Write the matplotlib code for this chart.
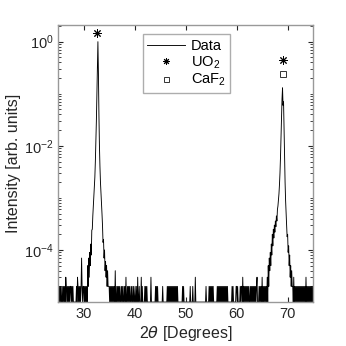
import numpy as np
import matplotlib.pyplot as plt
from matplotlib.ticker import LogLocator, FixedLocator, NullFormatter

plt.rcParams['font.family'] = ['Liberation Sans', 'DejaVu Sans']
plt.rcParams['mathtext.default'] = 'regular'

# 2theta grid, 0.1 deg step
two_theta = np.round(np.arange(25.0, 75.05, 0.1), 1)

# background counts, one digit per 0.1 deg starting at 25.0
# (1 count -> 1e-5 after normalisation)
background = (
    "2121212112" "1212132121" "2121221212" "1111112132" "1212127212"  # 25-29
    "2121212121" "2121212121" "1212121212" "2121212121" "1212141212"  # 30-34
    "2121212121" "2141121212" "1211212112" "1213112121" "2112121121"  # 35-39
    "1211213112" "1113121111" "2121211111" "1131111111" "1212121111"  # 40-44
    "1111121111" "1111212121" "2121212121" "2121211111" "1111212111"  # 45-49
    "1111111112" "1111211113" "1111111111" "1111111111" "2111112121"  # 50-54
    "2121211111" "1121212121" "2121212121" "2121111111" "1212111112"  # 55-59
    "2121111212" "2131212121" "2121211212" "1212121212" "3111212121"  # 60-64
    "3121212121" "2121212121" "2121212121" "1212121212" "2121212121"  # 65-69
    "1212121212" "2131212121" "2121212121" "2121213121" "2121212121"  # 70-74
    "2"
)

# UO2 (200) peak, normalised intensity from 30.8 deg
peak1_start = 30.8
peak1 = [5e-5, 2e-5, 7e-5, 3e-5, 9e-5, 5e-5, 1.3e-4, 8e-5, 2.4e-4, 2.5e-4,
         4.5e-4, 7e-4, 1.1e-3, 1.6e-3, 2.5e-3, 5e-3, 0.012, 0.03, 0.1, 0.35,
         1.0, 0.25, 0.04, 0.01, 4e-3, 2e-3, 1.3e-3, 8e-4, 5e-4, 3e-4,
         1.4e-4, 1.6e-4, 7e-5, 1e-4, 4e-5, 6e-5, 3e-5, 5e-5, 2e-5, 4e-5,
         2e-5]

# UO2 (400) / CaF2 (400) peak from 66.0 deg
peak2_start = 66.0
peak2 = [3e-5, 1e-5, 5e-5, 2e-5, 7e-5, 4e-5, 9e-5, 5e-5, 1.3e-4, 8e-5,
         2e-4, 1.2e-4, 2.5e-4, 1.7e-4, 3e-4, 2.2e-4, 3.6e-4, 2.8e-4, 4.5e-4, 3.6e-4,
         6e-4, 7e-4, 9e-4, 1.2e-3, 1.8e-3, 3e-3, 6e-3, 0.015, 0.04, 0.08,
         0.13, 0.06, 0.07, 0.02, 6e-3, 2e-3, 9e-4, 5e-4, 3e-4, 1.8e-4,
         2e-4, 9e-5, 1.2e-4, 5e-5, 8e-5, 3e-5, 5e-5, 2e-5, 4e-5, 2e-5]

# reference markers
uo2_x = [32.7, 69.0]
uo2_y = [1.5, 0.45]
caf2_x = [69.0]
caf2_y = [0.24]

intensity = np.array([int(c) for c in background]) * 1e-5
for start, vals in [(peak1_start, peak1), (peak2_start, peak2)]:
    i0 = int(round((start - 25.0) / 0.1))
    seg = intensity[i0:i0 + len(vals)]
    intensity[i0:i0 + len(vals)] = np.maximum(seg, vals)

fig = plt.figure(figsize=(3.46, 3.46), dpi=100)
ax = fig.add_axes([0.168, 0.127, 0.737, 0.801])

ax.semilogy(two_theta, intensity, color='k', lw=0.65, label='Data')
ax.plot(uo2_x, uo2_y, linestyle='none', marker=(8, 2, 0), ms=6, mew=0.7,
        color='k', label='UO$_2$')
ax.plot(caf2_x, caf2_y, linestyle='none', marker='s', ms=4.5, mew=0.7,
        mfc='none', mec='#333333', label='CaF$_2$')

ax.set_xlim(25, 75)
ax.set_ylim(1e-5, 2.1)
ax.xaxis.set_major_locator(FixedLocator([30, 40, 50, 60, 70]))
ax.yaxis.set_major_locator(FixedLocator([1e-4, 1e-2, 1e0]))
ax.yaxis.set_minor_locator(LogLocator(base=10, subs=np.arange(1, 10), numticks=20))
ax.yaxis.set_minor_formatter(NullFormatter())
ax.tick_params(which='both', direction='in', top=True, right=True,
               colors='#262626', labelsize=10.5)
ax.tick_params(which='major', length=3.5)
ax.tick_params(which='minor', length=2)
for s in ax.spines.values():
    s.set_color('#999999')
    s.set_linewidth(1.0)

ax.set_xlabel(r'2$\mathit{\theta}$ [Degrees]', fontsize=11.5, color='#262626', labelpad=2)
ax.set_ylabel('Intensity [arb. units]', fontsize=11.5, color='#262626', labelpad=2)

leg = ax.legend(loc='upper left', bbox_to_anchor=(0.332, 0.966), borderaxespad=0,
                fontsize=10.5, frameon=True, fancybox=False, handlelength=2.6,
                handletextpad=0.4, labelspacing=0.1, borderpad=0.3, markerscale=0.8)
leg.get_frame().set_edgecolor('#999999')
leg.get_frame().set_linewidth(1.0)

fig.savefig('out.png', dpi=100)
